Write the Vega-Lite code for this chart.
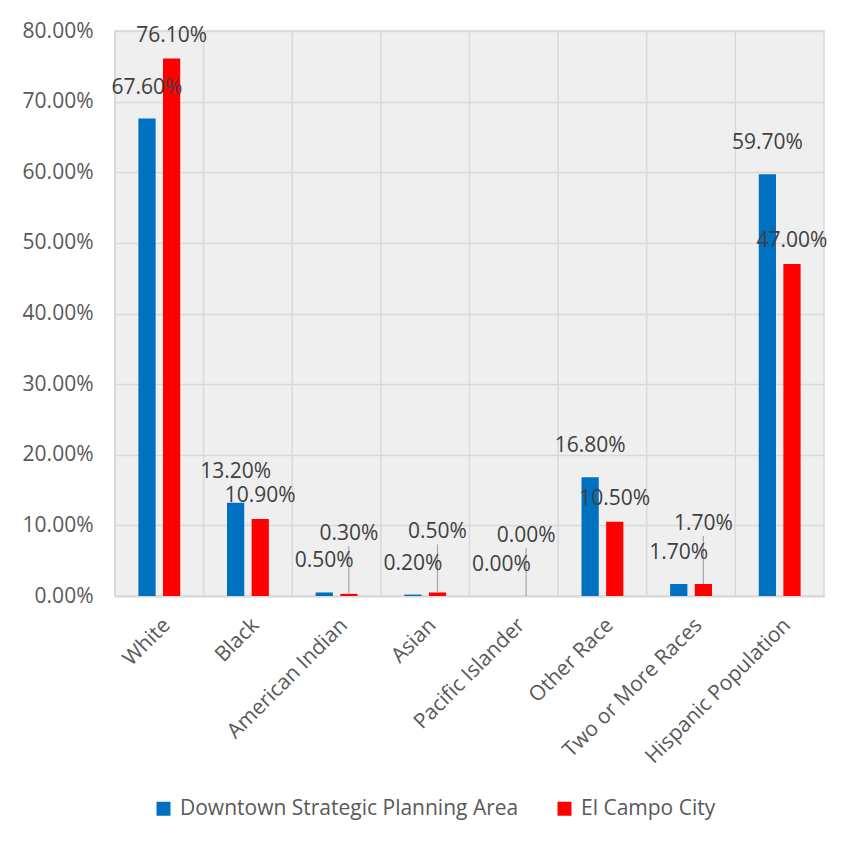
{
  "$schema": "https://vega.github.io/schema/vega-lite/v6.json",
  "width": 709,
  "height": 565,
  "autosize": {"type": "none"},
  "padding": {"left": 115, "top": 31, "right": 30, "bottom": 251},
  "background": "white",
  "config": {
    "font": "Open Sans",
    "view": {"fill": "#efefef", "stroke": "#d9d9d9", "strokeWidth": 1.5}
  },
  "data": {
    "values": [
      {"category": "White", "series": "Downtown Strategic Planning Area", "value": 0.676},
      {"category": "White", "series": "El Campo City", "value": 0.761},
      {"category": "Black", "series": "Downtown Strategic Planning Area", "value": 0.132},
      {"category": "Black", "series": "El Campo City", "value": 0.109},
      {"category": "American Indian", "series": "Downtown Strategic Planning Area", "value": 0.005},
      {"category": "American Indian", "series": "El Campo City", "value": 0.003},
      {"category": "Asian", "series": "Downtown Strategic Planning Area", "value": 0.002},
      {"category": "Asian", "series": "El Campo City", "value": 0.005},
      {"category": "Pacific Islander", "series": "Downtown Strategic Planning Area", "value": 0.0},
      {"category": "Pacific Islander", "series": "El Campo City", "value": 0.0},
      {"category": "Other Race", "series": "Downtown Strategic Planning Area", "value": 0.168},
      {"category": "Other Race", "series": "El Campo City", "value": 0.105},
      {"category": "Two or More Races", "series": "Downtown Strategic Planning Area", "value": 0.017},
      {"category": "Two or More Races", "series": "El Campo City", "value": 0.017},
      {"category": "Hispanic Population", "series": "Downtown Strategic Planning Area", "value": 0.597},
      {"category": "Hispanic Population", "series": "El Campo City", "value": 0.47}
    ]
  },
  "layer": [
    {
      "transform": [{"filter": "datum.series === 'Downtown Strategic Planning Area'"}],
      "mark": {"type": "rule", "color": "#d9d9d9", "strokeWidth": 1.5},
      "encoding": {
        "x": {"field": "category", "type": "nominal", "sort": null, "bandPosition": 0}
      }
    },
    {
      "mark": {"type": "bar"},
      "encoding": {
        "x": {
          "field": "category",
          "type": "nominal",
          "sort": null,
          "scale": {"paddingInner": 0, "paddingOuter": 0},
          "axis": {
            "title": null,
            "grid": false,
            "ticks": false,
            "labelAngle": -45,
            "labelAlign": "right",
            "labelBaseline": "top",
            "labelFontSize": 21,
            "labelColor": "#595959",
            "labelPadding": 18,
            "labelLimit": 0,
            "domainColor": "#d9d9d9",
            "domainWidth": 2
          }
        },
        "xOffset": {
          "field": "series",
          "type": "nominal",
          "sort": ["Downtown Strategic Planning Area", "El Campo City"],
          "scale": {"paddingInner": 0.3, "paddingOuter": 0.95}
        },
        "y": {
          "field": "value",
          "type": "quantitative",
          "scale": {"domain": [0, 0.8]},
          "axis": {
            "title": null,
            "format": ".2%",
            "values": [0, 0.1, 0.2, 0.3, 0.4, 0.5, 0.6, 0.7, 0.8],
            "labelFontSize": 21,
            "labelColor": "#595959",
            "ticks": false,
            "domain": false,
            "gridColor": "#d9d9d9",
            "gridWidth": 1.5,
            "labelPadding": 22
          }
        },
        "color": {
          "field": "series",
          "type": "nominal",
          "scale": {
            "domain": ["Downtown Strategic Planning Area", "El Campo City"],
            "range": ["#0070C0", "#FF0000"]
          },
          "legend": {
            "title": null,
            "orient": "none",
            "legendX": 38,
            "legendY": 767,
            "direction": "horizontal",
            "symbolType": "square",
            "symbolSize": 196,
            "symbolStrokeWidth": 0,
            "labelFontSize": 21,
            "labelColor": "#595959",
            "labelLimit": 0,
            "columnPadding": 35,
            "labelOffset": 6
          }
        }
      }
    },
    {
      "transform": [{"filter": "datum.series === 'El Campo City' && datum.value < 0.03"}],
      "mark": {"type": "rule", "color": "#a6a6a6", "strokeWidth": 1.2, "y2Offset": -48},
      "encoding": {
        "x": {"field": "category", "type": "nominal", "sort": null},
        "xOffset": {"field": "series", "type": "nominal", "sort": ["Downtown Strategic Planning Area", "El Campo City"]},
        "y": {"field": "value", "type": "quantitative"},
        "y2": {"field": "value"}
      }
    },
    {
      "transform": [{"filter": "datum.series === 'Downtown Strategic Planning Area'"}],
      "mark": {"type": "text", "fontSize": 21, "color": "#404040", "align": "center", "baseline": "middle", "dy": -31},
      "encoding": {
        "x": {"field": "category", "type": "nominal", "sort": null},
        "xOffset": {"field": "series", "type": "nominal", "sort": ["Downtown Strategic Planning Area", "El Campo City"]},
        "y": {"field": "value", "type": "quantitative"},
        "text": {"field": "value", "type": "quantitative", "format": ".2%"}
      }
    },
    {
      "transform": [{"filter": "datum.series === 'El Campo City' && datum.value >= 0.03"}],
      "mark": {"type": "text", "fontSize": 21, "color": "#404040", "align": "center", "baseline": "middle", "dy": -23},
      "encoding": {
        "x": {"field": "category", "type": "nominal", "sort": null},
        "xOffset": {"field": "series", "type": "nominal", "sort": ["Downtown Strategic Planning Area", "El Campo City"]},
        "y": {"field": "value", "type": "quantitative"},
        "text": {"field": "value", "type": "quantitative", "format": ".2%"}
      }
    },
    {
      "transform": [{"filter": "datum.series === 'El Campo City' && datum.value < 0.03"}],
      "mark": {"type": "text", "fontSize": 21, "color": "#404040", "align": "center", "baseline": "middle", "dy": -60},
      "encoding": {
        "x": {"field": "category", "type": "nominal", "sort": null},
        "xOffset": {"field": "series", "type": "nominal", "sort": ["Downtown Strategic Planning Area", "El Campo City"]},
        "y": {"field": "value", "type": "quantitative"},
        "text": {"field": "value", "type": "quantitative", "format": ".2%"}
      }
    }
  ]
}
